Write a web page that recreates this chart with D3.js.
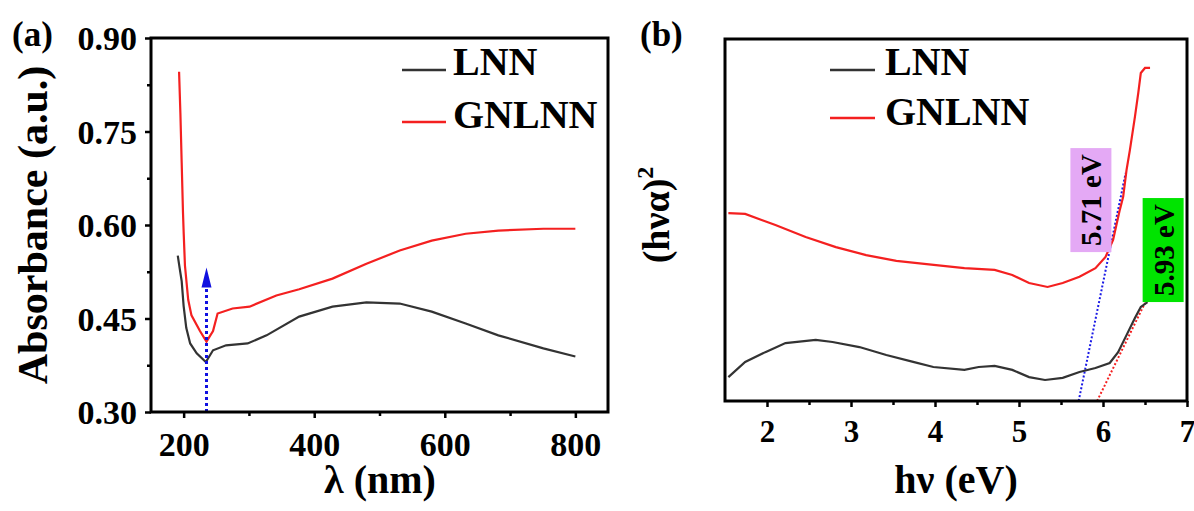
<!DOCTYPE html>
<html>
<head>
<meta charset="utf-8">
<script src="https://cdn.jsdelivr.net/npm/d3@7"></script>
<style>
  body { margin: 0; background: #fff; }
  svg { font-family: "Liberation Serif", "Times New Roman", serif; font-weight: bold; }
</style>
</head>
<body>
<svg id="fig" width="1194" height="511"></svg>
<script>
// ---- panel (a): absorbance vs wavelength (nm)
const lnnAbs = [
  [191, 0.551], [194, 0.53], [197, 0.51], [200, 0.47], [204, 0.435], [210, 0.41],
  [220, 0.394], [234, 0.380], [245, 0.399], [265, 0.407], [298, 0.410], [327, 0.423],
  [377, 0.453], [428, 0.469], [480, 0.476], [531, 0.474], [580, 0.461], [632, 0.442],
  [682, 0.423], [751, 0.402], [800, 0.389]
];
const gnlnnAbs = [
  [193, 0.846], [195, 0.78], [197, 0.70], [199, 0.62], [200, 0.589], [202, 0.535],
  [207, 0.48], [212, 0.455], [225, 0.43], [235, 0.413], [245, 0.43], [252, 0.458],
  [275, 0.466], [301, 0.469], [342, 0.487], [377, 0.497], [428, 0.514], [480, 0.538],
  [531, 0.559], [580, 0.575], [632, 0.586], [682, 0.591], [751, 0.594], [800, 0.594]
];
const absTicks = [0.30, 0.45, 0.60, 0.75, 0.90];
const absMinor = [0.375, 0.525, 0.675, 0.825];
const nmTicks = [200, 400, 600, 800];
const nmMinor = [300, 500, 700];
const arrowNm = 235, arrowTop = 0.532;

// ---- panel (b): (h nu alpha)^2 vs photon energy (eV), arbitrary units
const lnnTauc = [
  [1.54, 6.6], [1.74, 10.8], [1.98, 13.5], [2.22, 16.0], [2.58, 16.9], [2.78, 16.3],
  [3.1, 14.9], [3.42, 12.7], [3.74, 10.8], [3.98, 9.4], [4.35, 8.6], [4.52, 9.4],
  [4.71, 9.7], [4.92, 8.6], [5.12, 6.6], [5.31, 5.8], [5.52, 6.4], [5.72, 8.0],
  [5.91, 9.1], [6.08, 10.5], [6.18, 13.5], [6.28, 18.2], [6.38, 22.9], [6.45, 26.0],
  [6.53, 27.3]
];
const gnlnnTauc = [
  [1.54, 51.9], [1.74, 51.7], [2.1, 48.6], [2.46, 45.3], [2.82, 42.5], [3.18, 40.3],
  [3.54, 38.7], [3.9, 37.8], [4.35, 36.7], [4.71, 36.2], [4.92, 34.8], [5.12, 32.6],
  [5.34, 31.5], [5.52, 32.6], [5.72, 34.3], [5.91, 36.7], [6.03, 39.8], [6.12, 44.5],
  [6.2, 52.8], [6.24, 56.4], [6.28, 63.8], [6.32, 69.3], [6.38, 78.5], [6.42, 85.1],
  [6.45, 90.6], [6.5, 92.0], [6.56, 92.0]
];
const evTicks = [2, 3, 4, 5, 6, 7];
const evMinor = [2.5, 3.5, 4.5, 5.5, 6.5];
// band-gap fits: onset energy, top point of fitted line, label anchor
const gapOnsets = [5.71, 5.93];
const gapFitTops = [[6.27, 63.0], [6.5, 27.1]];
const gapLabels = ["5.71 eV", "5.93 eV"];
const gapLabelAt = [[5.85, 55.5], [6.71, 41.7]];

const seriesNames = ["LNN", "GNLNN"];
const seriesColors = ["#333333", "#f42020"];

const svg = d3.select("#fig");

function frame(x0, y0, x1, y1) {
  svg.append("rect")
    .attr("x", x0).attr("y", y0)
    .attr("width", x1 - x0).attr("height", y1 - y0)
    .attr("fill", "none").attr("stroke", "#000").attr("stroke-width", 3);
}

function styleAxis(g, fontSize) {
  g.attr("font-family", null).attr("font-size", null);
  g.select(".domain").remove();
  g.selectAll(".tick line").attr("stroke", "#000").attr("stroke-width", 2.5);
  g.selectAll(".tick text").attr("fill", "#000").attr("font-size", fontSize);
}

function legend(x, ys, textX, baselines) {
  seriesNames.forEach((n, i) => {
    svg.append("line")
      .attr("x1", x[0]).attr("x2", x[1])
      .attr("y1", ys[i]).attr("y2", ys[i])
      .attr("stroke", seriesColors[i]).attr("stroke-width", 2.5);
    svg.append("text")
      .attr("x", textX).attr("y", baselines[i])
      .attr("font-size", 40).text(n);
  });
}

// ================= panel (a)
const ax = d3.scaleLinear().domain([150, 850]).range([151, 608]);
const ay = d3.scaleLinear().domain([0.30, 0.90]).range([412, 38]);

const gxa = svg.append("g").attr("transform", "translate(0,412)")
  .call(d3.axisBottom(ax).tickValues(nmTicks).tickSize(6).tickFormat(d3.format("d")));
styleAxis(gxa, 34);
gxa.selectAll(".tick text").attr("y", 44).attr("dy", null);
const gxam = svg.append("g").attr("transform", "translate(0,412)")
  .call(d3.axisBottom(ax).tickValues(nmMinor).tickSize(4).tickFormat(""));
styleAxis(gxam, 0);

const gya = svg.append("g").attr("transform", "translate(151,0)")
  .call(d3.axisLeft(ay).tickValues(absTicks).tickSize(6).tickFormat(d3.format(".2f")));
styleAxis(gya, 34);
gya.selectAll(".tick text").attr("x", -14).attr("dy", "0.34em");
const gyam = svg.append("g").attr("transform", "translate(151,0)")
  .call(d3.axisLeft(ay).tickValues(absMinor).tickSize(4).tickFormat(""));
styleAxis(gyam, 0);

const lineA = d3.line().x(d => ax(d[0])).y(d => ay(d[1]));
[lnnAbs, gnlnnAbs].forEach((s, i) => {
  svg.append("path").datum(s)
    .attr("d", lineA).attr("fill", "none")
    .attr("stroke", seriesColors[i]).attr("stroke-width", 2.2);
});

// blue dotted arrow at the absorption minimum
svg.append("line")
  .attr("x1", ax(arrowNm)).attr("x2", ax(arrowNm))
  .attr("y1", ay(0.30)).attr("y2", ay(arrowTop) + 14)
  .attr("stroke", "#1010e0").attr("stroke-width", 3).attr("stroke-dasharray", "3 3");
svg.append("path")
  .attr("d", `M${ax(arrowNm)},${ay(arrowTop)} L${ax(arrowNm) - 5},${ay(arrowTop) + 20} L${ax(arrowNm) + 5},${ay(arrowTop) + 20} Z`)
  .attr("fill", "#1010e0");

frame(151, 38, 608, 412);
legend([402, 446], [70, 122], 453, [75, 128]);

svg.append("text").attr("x", 12).attr("y", 46).attr("font-size", 35).text("(a)");
svg.append("text").attr("font-size", 42)
  .attr("transform", "translate(47,225) rotate(-90)")
  .attr("text-anchor", "middle").text("Absorbance (a.u.)");
svg.append("text").attr("font-size", 40)
  .attr("x", 380).attr("y", 493).attr("text-anchor", "middle").text("λ (nm)");

// ================= panel (b)
const bx = d3.scaleLinear().domain([1.5, 7]).range([725, 1187]);
const by = d3.scaleLinear().domain([0, 100]).range([401, 39]);

const gxb = svg.append("g").attr("transform", "translate(0,401)")
  .call(d3.axisBottom(bx).tickValues(evTicks).tickSize(6).tickFormat(d3.format("d")));
styleAxis(gxb, 31);
gxb.selectAll(".tick text").attr("y", 41).attr("dy", null);
const gxbm = svg.append("g").attr("transform", "translate(0,401)")
  .call(d3.axisBottom(bx).tickValues(evMinor).tickSize(4).tickFormat(""));
styleAxis(gxbm, 0);

// fitted band-gap lines
gapOnsets.forEach((e0, i) => {
  svg.append("line")
    .attr("x1", bx(e0)).attr("y1", by(0))
    .attr("x2", bx(gapFitTops[i][0])).attr("y2", by(gapFitTops[i][1]))
    .attr("stroke", i === 0 ? "#1a1ae6" : "#f42020")
    .attr("stroke-width", 2).attr("stroke-dasharray", "2 2");
});

const lineB = d3.line().x(d => bx(d[0])).y(d => by(d[1]));
[lnnTauc, gnlnnTauc].forEach((s, i) => {
  svg.append("path").datum(s)
    .attr("d", lineB).attr("fill", "none")
    .attr("stroke", seriesColors[i]).attr("stroke-width", 2.2);
});

// gap value labels
const gapFill = ["#e4a9f5", "#00e400"];
gapLabels.forEach((t, i) => {
  const cx = bx(gapLabelAt[i][0]), cy = by(gapLabelAt[i][1]);
  svg.append("rect")
    .attr("x", cx - 20).attr("y", cy - 52).attr("width", 41).attr("height", 104)
    .attr("fill", gapFill[i]);
  svg.append("text")
    .attr("transform", `translate(${cx + 11},${cy}) rotate(-90)`)
    .attr("text-anchor", "middle").attr("font-size", 29).text(t);
});

frame(725, 39, 1187, 401);
legend([830, 875], [70, 118], 885, [75, 125]);

svg.append("text").attr("x", 640).attr("y", 46).attr("font-size", 35).text("(b)");
const yl = svg.append("text").attr("font-size", 38)
  .attr("transform", "translate(669,215) rotate(-90)")
  .attr("text-anchor", "middle");
yl.append("tspan").text("(hνα)");
yl.append("tspan").attr("font-size", 24).attr("dy", -16).text("2");
svg.append("text").attr("font-size", 40)
  .attr("x", 956).attr("y", 493).attr("text-anchor", "middle").text("hν (eV)");
</script>
</body>
</html>
